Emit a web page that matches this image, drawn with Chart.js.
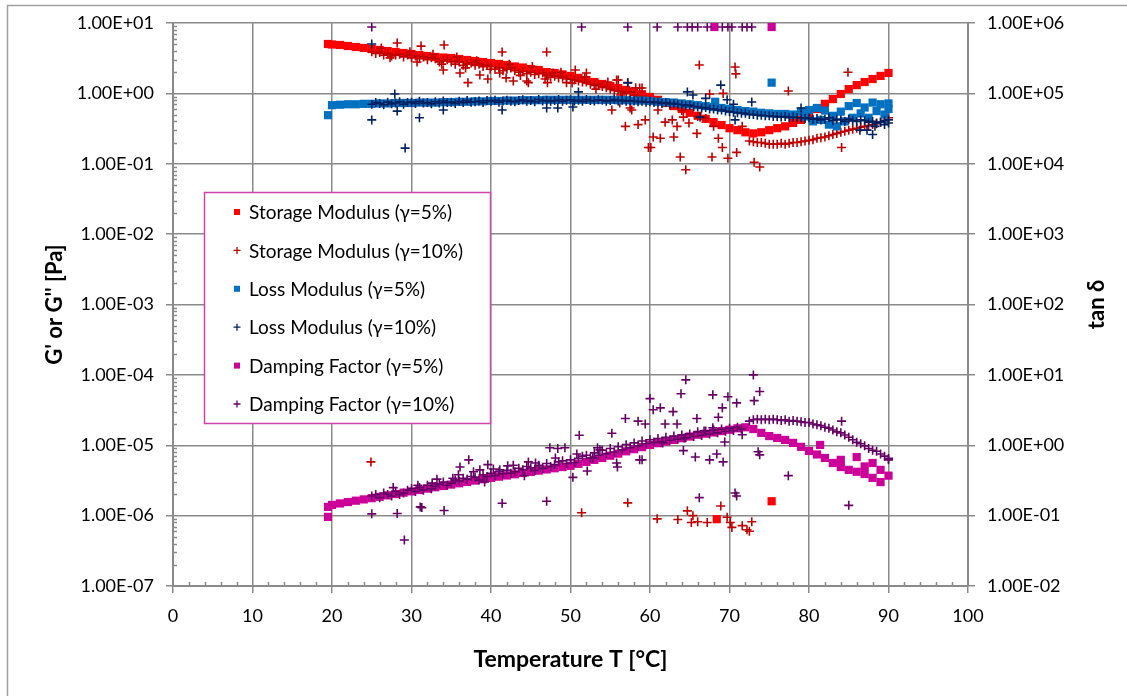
<!DOCTYPE html>
<html><head><meta charset="utf-8">
<script src="https://cdn.jsdelivr.net/npm/chart.js@4"></script>
<style>html,body{margin:0;padding:0;background:#fff}#wrap{width:1127px;height:696px;position:relative}</style>
</head><body><div id="wrap"><canvas id="c"></canvas></div>
<script>
// ---------- tick values ----------
const tempTicks = [0,10,20,30,40,50,60,70,80,90,100];
const gTicks = [1e-7,1e-6,1e-5,1e-4,1e-3,1e-2,1e-1,1e0,1e1];
const tanTicks = [1e-2,1e-1,1e0,1e1,1e2,1e3,1e4,1e5,1e6];

// ---------- series: [T, value] ----------
const storage5 = [[19.5,5.03],[20,4.95],[21,4.87],[22,4.71],[23,4.56],[24,4.42],[25,4.27],[26,4.14],[27,4.00],[28,3.87],[29,3.75],[30,3.63],[31,3.51],[32,3.40],[33,3.29],[34,3.23],[35,3.18],[36,3.08],[37,2.98],[38,2.88],[39,2.79],[40,2.70],[41,2.62],[42,2.53],[43,2.41],[44,2.33],[45,2.22],[46,2.15],[47,2.01],[48,1.95],[49,1.86],[50,1.77],[51,1.66],[52,1.55],[53,1.45],[54,1.36],[55,1.27],[56,1.19],[57,1.12],[58,1.05],[59,0.97],[60,0.89],[61,0.81],[62,0.73],[63,0.66],[64,0.60],[65,0.53],[66,0.48],[67,0.435],[68,0.39],[69,0.355],[70,0.32],[71,0.30],[72,0.28],[73,0.27],[74,0.28],[75,0.30],[76,0.32],[77,0.34],[78,0.38],[79,0.42],[80,0.495],[81,0.60],[82,0.71],[83,0.83],[84,0.98],[85,1.15],[86,1.31],[87,1.45],[88,1.60],[89,1.77],[90,1.95],[68.4,8.9e-7],[75.3,1.6e-6]];

const storage10 = [[25,3.9],[25.5,3.7],[26,3.8],[26.5,3.5],[27,3.7],[27.5,3.4],[28,3.5],[28.5,3.6],[29,3.3],[29.5,3.5],[30,3.2],[30.5,3.4],[31,3.1],[31.5,3.3],[32,3.0],[32.5,3.2],[33,3.1],[33.5,2.8],[34,2.9],[34.5,3.0],[35,2.8],[35.5,2.6],[36,2.8],[36.5,2.5],[37,2.6],[37.5,2.7],[38,2.5],[38.5,2.6],[39,2.4],[39.5,2.5],[40,2.4],[40.5,2.2],[41,2.3],[41.5,2.1],[42,2.2],[42.5,2.3],[43,2.1],[43.5,2.0],[44,2.05],[44.5,1.9],[45,2.0],[45.5,1.85],[46,1.9],[46.5,1.95],[47,1.8],[47.5,1.7],[48,1.75],[48.5,1.65],[49,1.7],[49.5,1.6],[50,1.6],[50.5,1.55],[51,1.5],[51.5,1.45],[52,1.45],[52.5,1.35],[53,1.3],[53.5,1.35],[54,1.25],[54.5,1.2],[55,1.15],[55.5,1.1],[56,1.1],[56.5,1.05],[57,1.0],[57.5,1.05],[58,0.95],[58.5,0.9],[59,0.9],[59.5,0.85],[60,0.8],
[26.2,4.4],[27.3,3.2],[29.8,3.9],[32.7,3.6],[33.8,2.6],[35.7,3.3],[36.8,2.3],[38.2,2.9],[39.9,2.2],[42.3,2.6],[43.7,1.8],[45.2,2.4],[46.8,1.6],[48.8,2.0],[50.2,1.4],[51.8,1.7],[53.2,1.15],[54.7,1.45],[56.3,0.95],[58.2,1.2],
[28.2,5.2],[31.2,4.7],[34.1,4.87],[41.4,3.87],[47,3.87],[37.1,1.42],[44.7,1.42],[42.8,1.5],[36.1,1.95],[30.7,2.79],[34,2.15],[39.6,1.6],[47.1,1.42],[49.5,1.42],[50.6,2.15],[52,1.95],[55.8,1.55],[57.2,1.42],[58.7,1.19],[55.2,0.58],[56.9,0.34],[58.5,0.36],[57.5,0.62],[59.8,0.17],[41.1,1.95],[41.9,1.66],[44.5,1.5],[47.8,1.95],[38.6,1.82],[56,1.55],[59,1.19],[59.4,0.42],[56.2,0.73],[57.7,0.58],
[60.1,0.17],[60.4,0.24],[61.3,0.23],[61.9,0.39],[63,0.24],[63.4,0.34],[63.8,0.125],[64.5,0.082],[64.9,0.38],[65.9,0.27],[66.2,2.53],[67.8,0.125],[68,0.34],[68.6,0.23],[69.1,0.17],[69.8,0.12],[70.7,2.37],[70.8,1.89],[70.9,0.145],[71.6,0.34],[73.1,0.105],[73.8,0.09],[77.4,1.08],[67.5,0.98],[69.2,1.0],[61,0.58],[62.8,0.42],[64.2,0.46],[61,0.78],[62.5,0.68],[64,0.57],[66,0.47],[67,0.44],
[72.5,0.21],[73,0.205],[73.5,0.20],[74,0.20],[74.5,0.195],[75,0.19],[75.5,0.19],[76,0.19],[76.5,0.195],[77,0.19],[77.5,0.195],[78,0.20],[78.5,0.20],[79,0.205],[79.5,0.21],[80,0.215],[80.5,0.22],[81,0.23],[81.5,0.235],[82,0.24],[82.5,0.25],[83,0.26],[83.5,0.27],[84,0.28],[84.5,0.29],[85,0.30],[85.5,0.31],[86,0.32],[86.5,0.33],[87,0.34],[87.5,0.35],[88,0.36],[88.5,0.37],[89,0.39],[89.5,0.41],[90,0.45],[84.9,2.0],[84.1,0.17],
[57.2,1.52e-6],[60.9,9.0e-7],[63.5,8.8e-7],[64.7,1.17e-6],[65.4,1.0e-6],[65.2,8.0e-7],[66,8.2e-7],[67.2,8.0e-7],[68.9,1.37e-6],[69.7,9.5e-7],[70.1,8.0e-7],[70.3,6.8e-7],[71.6,7.2e-7],[72.2,6.3e-7],[72.5,6.0e-7],[72.8,8.2e-7],[24.9,5.8e-6],[51.4,1.1e-6]];

const loss5 = [[19.5,0.49],[20,0.68],[21,0.69],[22,0.70],[23,0.70],[24,0.71],[25,0.71],[26,0.72],[27,0.72],[28,0.73],[29,0.73],[30,0.73],[31,0.74],[32,0.74],[33,0.74],[34,0.75],[35,0.75],[36,0.76],[37,0.76],[38,0.77],[39,0.77],[40,0.78],[41,0.78],[42,0.79],[43,0.79],[44,0.80],[45,0.80],[46,0.80],[47,0.81],[48,0.81],[49,0.81],[50,0.81],[51,0.81],[52,0.81],[53,0.81],[54,0.81],[55,0.81],[56,0.80],[57,0.80],[58,0.79],[59,0.79],[60,0.78],[61,0.76],[62,0.75],[63,0.74],[64,0.72],[65,0.70],[66,0.68],[67,0.66],[68,0.64],[69,0.62],[70,0.60],[71,0.58],[72,0.56],[73,0.55],[74,0.53],[75,0.52],[76,0.51],[77,0.51],[78,0.50],[79,0.55],[79.5,0.47],[80,0.58],[80.5,0.40],[81,0.62],[81.5,0.42],[82,0.57],[82.5,0.36],[83,0.48],[83.5,0.34],[84,0.55],[84.5,0.40],[85,0.66],[85.5,0.45],[86,0.73],[86.5,0.52],[87,0.63],[87.5,0.45],[88,0.74],[88.5,0.56],[89,0.70],[89.5,0.50],[90,0.72],[90,0.60],[68.2,0.76],[75.3,1.42]];

const loss10 = [[25,0.70],[25.5,0.74],[26,0.72],[26.5,0.69],[27,0.75],[27.5,0.71],[28,0.73],[28.5,0.76],[29,0.70],[29.5,0.74],[30,0.75],[30.5,0.72],[31,0.77],[31.5,0.73],[32,0.74],[32.5,0.71],[33,0.76],[33.5,0.73],[34,0.78],[34.5,0.74],[35,0.75],[35.5,0.72],[36,0.77],[36.5,0.74],[37,0.79],[37.5,0.75],[38,0.76],[38.5,0.78],[39,0.74],[39.5,0.79],[40,0.77],[40.5,0.80],[41,0.75],[41.5,0.78],[42,0.80],[42.5,0.77],[43,0.76],[43.5,0.79],[44,0.81],[44.5,0.77],[45,0.79],[45.5,0.76],[46,0.82],[46.5,0.78],[47,0.80],[47.5,0.77],[48,0.79],[48.5,0.82],[49,0.77],[49.5,0.80],[50,0.81],[50.5,0.78],[51,0.80],[51.5,0.77],[52,0.82],[52.5,0.79],[53,0.78],[53.5,0.81],[54,0.80],[54.5,0.77],[55,0.79],[55.5,0.82],[56,0.78],[56.5,0.80],[57,0.77],[57.5,0.79],[58,0.78],[58.5,0.76],[59,0.77],[59.5,0.75],[60,0.76],[60.5,0.74],[61,0.75],[61.5,0.72],[62,0.74],[62.5,0.71],[63,0.72],[63.5,0.70],[64,0.69],[64.5,0.67],[65,0.68],[65.5,0.65],[66,0.64],[66.5,0.62],[67,0.63],[67.5,0.60],[68,0.60],[68.5,0.58],[69,0.58],[69.5,0.56],[70,0.55],[70.5,0.54],[71,0.53],[71.5,0.52],[72,0.52],[72.5,0.50],[73,0.50],[73.5,0.49],[74,0.49],[74.5,0.48],[75,0.48],[75.5,0.47],[76,0.47],[76.5,0.46],[77,0.47],[77.5,0.45],[78,0.46],[78.5,0.45],[79,0.45],[79.5,0.44],[80,0.45],[80.5,0.43],[81,0.44],[81.5,0.42],[82,0.43],[82.5,0.45],[83,0.41],[83.5,0.43],[84,0.42],[84.5,0.40],[85,0.43],[85.5,0.41],[86,0.40],[86.5,0.42],[87,0.41],[87.5,0.39],[88,0.40],[88.5,0.38],[89,0.39],[89.5,0.41],[90,0.38],[90,0.42],
[25,5.03],[25,0.42],[27.9,0.98],[28.2,0.56],[29.2,0.167],[31,0.45],[34,0.58],[41.4,0.58],[47,0.62],[48.4,0.62],[50.3,0.64],[51,1.05],[57.2,1.41],[64.7,1.05],[65.4,0.95],[68.9,1.31],[69.7,0.81],[72.8,0.755],[66.3,0.46],[70.7,0.42],[88,0.26],[88.3,0.34],[89.5,0.36],[86.4,0.30],[87.3,0.30],[67,0.85],[70.5,0.70],[79,0.62]];

const damp5 = [[19.5,0.096],[19.5,0.133],[20,0.142],[21,0.149],[22,0.156],[23,0.163],[24,0.170],[25,0.177],[26,0.185],[27,0.194],[28,0.203],[29,0.212],[30,0.221],[31,0.231],[32,0.242],[33,0.253],[34,0.264],[35,0.276],[36,0.288],[37,0.301],[38,0.315],[39,0.329],[40,0.344],[41,0.358],[42,0.372],[43,0.387],[44,0.403],[45,0.419],[46,0.436],[47,0.453],[48,0.471],[49,0.49],[50,0.51],[51,0.545],[52,0.58],[53,0.62],[54,0.66],[55,0.71],[56,0.76],[57,0.82],[58,0.88],[59,0.94],[60,1.01],[61,1.07],[62,1.13],[63,1.19],[64,1.26],[65,1.33],[66,1.41],[67,1.46],[68,1.52],[69,1.59],[70,1.66],[71,1.74],[72,1.80],[73,1.70],[74,1.50],[75,1.35],[76,1.27],[77,1.19],[78,1.08],[79,0.95],[80,0.83],[81,0.74],[82,0.66],[83,0.56],[84,0.49],[85,0.447],[86,0.42],[87,0.39],[88,0.344],[89,0.30],[90,0.37],[81.4,1.01],[86,0.68],[88,0.56],[89,0.447],[84,0.62],[87,0.50],[68.1,8.77e5],[75.3,8.77e5]];

const damp10 = [[25,0.19],[25.5,0.20],[26,0.18],[26.5,0.21],[27,0.20],[27.5,0.19],[28,0.22],[28.5,0.20],[29,0.21],[29.5,0.23],[30,0.24],[30.5,0.22],[31,0.25],[31.5,0.23],[32,0.27],[32.5,0.24],[33,0.26],[33.5,0.28],[34,0.30],[34.5,0.27],[35,0.29],[35.5,0.32],[36,0.31],[36.5,0.34],[37,0.33],[37.5,0.36],[38,0.35],[38.5,0.32],[39,0.38],[39.5,0.36],[40,0.40],[40.5,0.37],[41,0.42],[41.5,0.39],[42,0.44],[42.5,0.40],[43,0.42],[43.5,0.47],[44,0.45],[44.5,0.50],[45,0.48],[45.5,0.44],[46,0.52],[46.5,0.47],[47,0.55],[47.5,0.50],[48,0.53],[48.5,0.58],[49,0.60],[49.5,0.55],[50,0.62],[50.5,0.57],[51,0.65],[51.5,0.70],[52,0.72],[52.5,0.66],[53,0.78],[53.5,0.72],[54,0.85],[54.5,0.76],[55,0.90],[55.5,0.80],[56,0.95],[56.5,0.86],[57,1.02],[57.5,0.92],[58,1.08],[58.5,0.98],[59,1.15],[59.5,1.05],[60,1.20],[60.5,1.10],[61,1.25],[61.5,1.12],[62,1.30],[62.5,1.18],[63,1.35],[63.5,1.22],[64,1.40],[64.5,1.28],[65,1.45],[65.5,1.33],[66,1.55],[66.5,1.38],[67,1.60],[67.5,1.45],[68,1.65],[68.5,1.50],[69,1.70],[69.5,1.58],[70,1.75],[70.5,1.62],[71,1.80],[71.5,1.70],
[30.8,0.27],[33.2,0.33],[35.9,0.38],[37.8,0.42],[40.3,0.46],[42.8,0.52],[45.6,0.56],[48.1,0.66],[50.8,0.75],[53.4,0.92],[44.2,0.37],[39.2,0.30],
[72.5,2.2],[73,2.3],[73.5,2.35],[74,2.3],[74.5,2.35],[75,2.3],[75.5,2.35],[76,2.3],[76.5,2.25],[77,2.3],[77.5,2.2],[78,2.25],[78.5,2.2],[79,2.15],[79.5,2.1],[80,2.1],[80.5,2.0],[81,1.95],[81.5,1.9],[82,1.8],[82.5,1.75],[83,1.65],[83.5,1.55],[84,1.5],[84.5,1.4],[85,1.3],[85.5,1.2],[86,1.1],[86.5,1.05],[87,0.98],[87.5,0.9],[88,0.85],[88.5,0.82],[89,0.75],[89.5,0.70],[90,0.65],[90,0.62],
[25,0.106],[27.7,0.25],[28.2,0.107],[29.1,0.045],[31.1,0.133],[31.3,0.13],[34.1,0.118],[36.1,0.49],[37.2,0.62],[38.6,0.447],[39.6,0.53],[41.1,0.447],[41.4,0.15],[42.1,0.51],[44.7,0.58],[46,0.51],[47,0.16],[47.4,0.92],[48.4,0.9],[49.3,0.92],[51.1,1.39],[50.3,0.35],[52.1,0.43],[55.2,1.48],[56.9,2.4],[58.5,2.2],[59,0.62],[55.8,0.56],[52.8,0.66],[53.7,0.86],[55.9,0.49],[59.4,2.0],[60,4.6],[60.4,3.2],[61.3,3.4],[61.9,2.0],[62.9,3.0],[63.4,2.0],[63.9,5.4],[64.5,8.5],[65.9,2.4],[67.9,5.2],[69.8,4.9],[70.9,4.0],[73,10.0],[73.8,5.8],[73.1,4.3],[69.1,3.4],[68.6,2.5],[67.9,1.77],[66.8,1.6],[64.3,1.27],[61.6,1.08],[58.7,0.62],[64.2,0.84],[65.7,0.68],[67.5,0.62],[68.4,0.75],[69.2,0.58],[69.4,1.11],[66.2,0.18],[70.7,0.21],[70.9,0.19],[71.6,1.41],[73.6,0.81],[73.8,0.73],[77.4,0.37],[85,0.14],[84.1,2.2],[32.6,0.29],[35.2,0.34],
[25.0,8.77e5],[51.4,8.77e5],[57.2,8.77e5],[60.9,8.77e5],[63.5,8.77e5],[64.7,8.77e5],[65.3,8.77e5],[66.0,8.77e5],[67.2,8.77e5],[69.1,8.77e5],[69.8,8.77e5],[70.3,8.77e5],[71.6,8.77e5],[72.2,8.77e5],[72.8,8.77e5]];

const seriesNames = ['Storage Modulus (\u03B3=5%)','Storage Modulus (\u03B3=10%)','Loss Modulus (\u03B3=5%)','Loss Modulus (\u03B3=10%)','Damping Factor (\u03B3=5%)','Damping Factor (\u03B3=10%)'];
const seriesColors = ['#FF0000','#C00000','#0070C0','#002060','#CC0099','#660066'];

// ---------- chart ----------
const GRID = '#8a8a8a';
const FONT = 'Lato';
function sci(v){ const e = Math.round(Math.log10(v)); const m = v/Math.pow(10,e); return m.toFixed(2)+'E'+(e<0?'-':'+')+String(Math.abs(e)).padStart(2,'0'); }
const toXY = a => a.map(p => ({x:p[0], y:p[1]}));
const sq = (i, data, axis) => ({label:seriesNames[i], data:toXY(data), yAxisID:axis, pointStyle:'rect', pointRadius:5.8, pointHoverRadius:5.8, backgroundColor:seriesColors[i], borderColor:seriesColors[i], borderWidth:0, showLine:false, order:6-i});
const cr = (i, data, axis) => ({label:seriesNames[i], data:toXY(data), yAxisID:axis, pointStyle:'cross', pointRadius:4.5, pointHoverRadius:4.5, backgroundColor:seriesColors[i], borderColor:seriesColors[i], borderWidth:1.6, showLine:false, order:6-i});

const deco = {
  id:'deco',
  beforeDraw(chart){
    const ctx = chart.ctx; ctx.save();
    ctx.fillStyle = '#fff'; ctx.fillRect(0,0,chart.width,chart.height);
    ctx.strokeStyle = '#a0a0a0'; ctx.lineWidth = 1.5;
    ctx.strokeRect(7.5,5.5,1200,800);
    ctx.restore();
  },
  beforeDatasetsDraw(chart){
    const ctx = chart.ctx, xs = chart.scales.x, ys = chart.scales.y, a = chart.chartArea;
    ctx.save(); ctx.strokeStyle = GRID; ctx.lineWidth = 1.5; ctx.beginPath();
    for (let t = 2; t < 100; t += 2) { if (t % 10 === 0) continue; const px = Math.round(xs.getPixelForValue(t)) + 0.5; ctx.moveTo(px, a.bottom); ctx.lineTo(px, a.bottom - 4); }
    for (let e = -7; e < 1; e++) for (let m = 2; m <= 9; m++) { const py = Math.round(ys.getPixelForValue(m*Math.pow(10,e))) + 0.5; ctx.moveTo(a.left, py); ctx.lineTo(a.left + 4, py); }
    ctx.stroke(); ctx.restore();
  },
  afterDraw(chart){
    const ctx = chart.ctx, a = chart.chartArea;
    ctx.save(); ctx.fillStyle = '#000'; ctx.textAlign = 'center'; ctx.textBaseline = 'middle';
    ctx.font = 'bold 23px ' + FONT;
    ctx.fillText('Temperature T [\u00B0C]', (a.left + a.right)/2, 660);
    ctx.font = 'bold 22px ' + FONT;
    ctx.save(); ctx.translate(55, (a.top + a.bottom)/2); ctx.rotate(-Math.PI/2); ctx.fillText("G' or G'' [Pa]", 0, 0); ctx.restore();
    ctx.save(); ctx.translate(1097, (a.top + a.bottom)/2); ctx.rotate(-Math.PI/2); ctx.fillText('tan \u03B4', 0, 0); ctx.restore();
    // legend
    const L = 204, T = 192, W = 286, H = 231;
    ctx.fillStyle = '#fff'; ctx.fillRect(L, T, W, H);
    ctx.strokeStyle = '#d044aa'; ctx.lineWidth = 1.5; ctx.strokeRect(L + 0.5, T + 0.5, W, H);
    ctx.font = '19px ' + FONT; ctx.textAlign = 'left';
    chart.data.datasets.forEach((ds, i) => {
      const y = 212 + i * 38.4;
      ctx.fillStyle = ds.borderColor; ctx.strokeStyle = ds.borderColor;
      if (ds.pointStyle === 'rect') { ctx.fillRect(234, y - 3, 6, 6); }
      else { ctx.lineWidth = 1.3; ctx.beginPath(); ctx.moveTo(233.5, y); ctx.lineTo(240.5, y); ctx.moveTo(237, y - 3.5); ctx.lineTo(237, y + 3.5); ctx.stroke(); }
      ctx.fillStyle = '#000'; ctx.fillText(ds.label, 249, y + 1);
    });
    ctx.restore();
  }
};

const tickFont = {family: FONT, size: 18};
new Chart(document.getElementById('c'), {
  type: 'scatter',
  data: { datasets: [
    sq(0, storage5, 'y'), cr(1, storage10, 'y'),
    sq(2, loss5, 'y'), cr(3, loss10, 'y'),
    sq(4, damp5, 'y1'), cr(5, damp10, 'y1')
  ]},
  options: {
    responsive: true, maintainAspectRatio: false, animation: false,
    layout: { padding: {top: 23, left: 0, right: 0, bottom: 0} },
    plugins: { legend: {display: false}, tooltip: {enabled: false} },
    events: [],
    scales: {
      x: { type: 'linear', min: 0, max: 100,
        afterBuildTicks: s => { s.ticks = tempTicks.map(v => ({value: v})); },
        afterFit: s => { s.height = 110; },
        grid: { color: GRID, lineWidth: 1.5, tickLength: 7, tickColor: GRID },
        border: { color: GRID, width: 2 },
        ticks: { color: '#000', font: tickFont, padding: 12, maxRotation: 0, autoSkip: false } },
      y: { type: 'logarithmic', position: 'left', min: 1e-7, max: 10,
        afterBuildTicks: s => { s.ticks = gTicks.map(v => ({value: v})); },
        afterFit: s => { s.width = 173; },
        grid: { color: GRID, lineWidth: 1.5, tickLength: 7, tickColor: GRID },
        border: { color: GRID, width: 2 },
        ticks: { color: '#000', font: tickFont, padding: 12, autoSkip: false, callback: v => sci(v) } },
      y1: { type: 'logarithmic', position: 'right', min: 1e-2, max: 1e6,
        afterBuildTicks: s => { s.ticks = tanTicks.map(v => ({value: v})); },
        afterFit: s => { s.width = 159; },
        grid: { drawOnChartArea: false, tickLength: 7, tickColor: GRID, lineWidth: 1.5 },
        border: { color: GRID, width: 2 },
        ticks: { color: '#000', font: tickFont, padding: 12, autoSkip: false, callback: v => sci(v) } }
    }
  },
  plugins: [deco]
});
</script></body></html>
